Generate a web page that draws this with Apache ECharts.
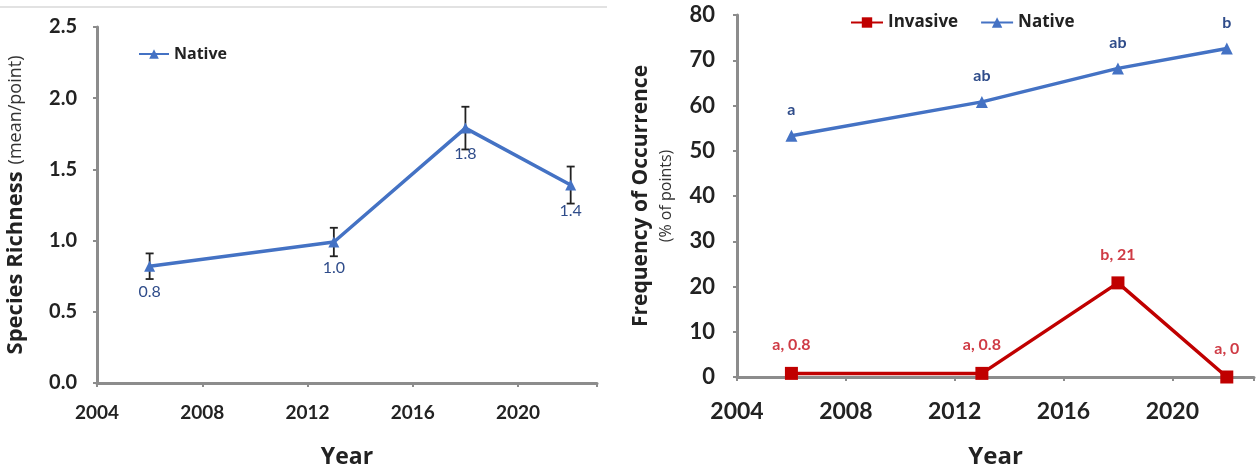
<!DOCTYPE html>
<html>
<head>
<meta charset="utf-8">
<script src="https://cdn.jsdelivr.net/npm/echarts@6/dist/echarts.min.js"></script>
<style>
html, body { margin: 0; background: #fff; }
#chart { width: 1257px; height: 474px; }
</style>
</head>
<body>
<div id="chart"></div>
<script>
// survey years and values
var years = [2006, 2013, 2018, 2022];
var richness = [0.82, 0.99, 1.79, 1.39];
var richnessErr = [0.09, 0.10, 0.15, 0.13];
var nativeFreq = [53.3, 60.8, 68.2, 72.6];
var nativeLetters = ["a", "ab", "ab", "b"];
var invasiveFreq = [0.8, 0.8, 20.8, 0];
var invasiveLabels = ["a, 0.8", "a, 0.8", "b, 21", "a, 0"];

var FONT = "Lato";
var NAMEFONT = "Open Sans";
var BLUE = "#4472C4";
var RED = "#C00000";
var AXIS = "#8c8c8c";

function pairs(vals) {
	return years.map(function (y, i) { return [y, vals[i]]; });
}

var myChart = echarts.init(document.getElementById("chart"));

function xAxisOpt(idx, fs, gap) {
	return {
		type: "value",
		gridIndex: idx,
		min: 2004,
		max: 2023,
		interval: 4,
		name: "Year",
		nameLocation: "middle",
		nameGap: gap,
		nameTextStyle: { fontFamily: NAMEFONT, fontWeight: "bold", fontSize: idx ? 24 : 23, color: "#222" },
		axisLine: { lineStyle: { color: AXIS, width: 3 } },
		axisTick: { length: 4, lineStyle: { color: AXIS, width: 2 } },
		axisLabel: {
			fontFamily: FONT, fontWeight: "bold", fontSize: fs, color: "#222", margin: idx ? 23 : 20,
			formatter: function (v) { return v % 4 === 0 ? v : ""; }
		},
		splitLine: { show: false }
	};
}

var option = {
	animation: false,
	backgroundColor: "#fff",
	graphic: [{
		type: "line",
		shape: { x1: 0, y1: 7, x2: 607, y2: 7 },
		style: { stroke: "#e2e2e2", lineWidth: 2 }
	}],
	legend: [
		{
			data: ["Native"],
			left: 133, top: 41,
			itemWidth: 30, itemHeight: 12, itemGap: 6,
			textStyle: { fontFamily: NAMEFONT, fontWeight: "bold", fontSize: 16, color: "#222" }
		},
		{
			data: ["Invasive", "Native "],
			left: 845, top: 9,
			itemWidth: 32, itemHeight: 13, itemGap: 22,
			textStyle: { fontFamily: NAMEFONT, fontWeight: "bold", fontSize: 17, color: "#222" }
		}
	],
	grid: [
		{ left: 97, top: 27, width: 500, bottom: 79 },
		{ left: 737, top: 15, right: 3, bottom: 82 }
	],
	xAxis: [xAxisOpt(0, 19, 63), xAxisOpt(1, 23, 68)],
	yAxis: [
		{
			type: "value",
			gridIndex: 0,
			min: 0, max: 2.5, interval: 0.5,
			name: "{b|Species Richness}{s| }{n|(mean/point)}",
			nameLocation: "middle",
			nameGap: 70,
			nameTextStyle: {
				rich: {
					b: { fontFamily: NAMEFONT, fontWeight: "bold", fontSize: 22, color: "#222" },
					s: { fontFamily: NAMEFONT, fontSize: 18, width: 7 },
					n: { fontFamily: NAMEFONT, fontSize: 18, color: "#333" }
				}
			},
			axisLine: { show: true, lineStyle: { color: AXIS, width: 3 } },
			axisTick: { show: true, length: 4, lineStyle: { color: AXIS, width: 2 } },
			axisLabel: {
				fontFamily: FONT, fontWeight: "bold", fontSize: 20, color: "#222", margin: 20,
				formatter: function (v) { return v.toFixed(1); }
			},
			splitLine: { show: false }
		},
		{
			type: "value",
			gridIndex: 1,
			min: 0, max: 80, interval: 10,
			name: "{b|Frequency of Occurrence}\n{n|(% of points)}",
			nameLocation: "middle",
			nameGap: 60,
			nameTextStyle: {
				rich: {
					b: { fontFamily: NAMEFONT, fontWeight: "bold", fontSize: 21, color: "#222", lineHeight: 27 },
					n: { fontFamily: NAMEFONT, fontSize: 16, color: "#333", lineHeight: 22 }
				}
			},
			axisLine: { show: true, lineStyle: { color: AXIS, width: 3 } },
			axisTick: { show: true, length: 4, lineStyle: { color: AXIS, width: 2 } },
			axisLabel: { fontFamily: FONT, fontWeight: "bold", fontSize: 22, color: "#222", margin: 22 },
			splitLine: { show: false }
		}
	],
	series: [
		{
			// error bars
			type: "custom",
			xAxisIndex: 0, yAxisIndex: 0,
			data: years.map(function (y, i) { return [y, richness[i] - richnessErr[i], richness[i] + richnessErr[i]]; }),
			renderItem: function (params, api) {
				var lo = api.coord([api.value(0), api.value(1)]);
				var hi = api.coord([api.value(0), api.value(2)]);
				var st = { stroke: "#222", lineWidth: 1.8 };
				return {
					type: "group",
					children: [
						{ type: "line", shape: { x1: lo[0], y1: lo[1], x2: hi[0], y2: hi[1] }, style: st },
						{ type: "line", shape: { x1: lo[0] - 4, y1: lo[1], x2: lo[0] + 4, y2: lo[1] }, style: st },
						{ type: "line", shape: { x1: hi[0] - 4, y1: hi[1], x2: hi[0] + 4, y2: hi[1] }, style: st }
					]
				};
			},
			z: 1,
			silent: true
		},
		{
			name: "Native",
			type: "line",
			xAxisIndex: 0, yAxisIndex: 0,
			data: pairs(richness),
			symbol: "triangle",
			symbolSize: 11,
			lineStyle: { color: BLUE, width: 3.5 },
			itemStyle: { color: BLUE },
			label: {
				show: true, position: "bottom", distance: 12,
				fontFamily: FONT, fontSize: 16, color: "#2F4C8A",
				formatter: function (p) { return p.value[1].toFixed(1); }
			},
			z: 3
		},
		{
			name: "Invasive",
			type: "line",
			xAxisIndex: 1, yAxisIndex: 1,
			data: pairs(invasiveFreq),
			symbol: "rect",
			symbolSize: 13,
			lineStyle: { color: RED, width: 3.5 },
			itemStyle: { color: RED },
			label: {
				show: true, position: "top", distance: 14,
				fontFamily: FONT, fontWeight: "bold", fontSize: 16, color: "#CF3B45",
				formatter: function (p) { return invasiveLabels[p.dataIndex]; }
			},
			z: 3
		},
		{
			name: "Native ",
			type: "line",
			xAxisIndex: 1, yAxisIndex: 1,
			data: pairs(nativeFreq),
			symbol: "triangle",
			symbolSize: 12,
			lineStyle: { color: BLUE, width: 3.5 },
			itemStyle: { color: BLUE },
			label: {
				show: true, position: "top", distance: 12,
				fontFamily: FONT, fontWeight: "bold", fontSize: 16, color: "#2F4C8A",
				formatter: function (p) { return nativeLetters[p.dataIndex]; }
			},
			z: 3
		},
		{
			// value labels under the native points
			type: "line",
			xAxisIndex: 1, yAxisIndex: 1,
			data: pairs(nativeFreq),
			symbol: "none",
			lineStyle: { opacity: 0 },
			label: {
				show: true, position: "bottom", distance: 18,
				fontFamily: FONT, fontWeight: "bold", fontSize: 16, color: "#2F4C8A",
				formatter: function (p) { return Math.round(p.value[1]); }
			},
			silent: true,
			z: 2
		}
	]
};
myChart.setOption(option);
</script>
</body>
</html>
